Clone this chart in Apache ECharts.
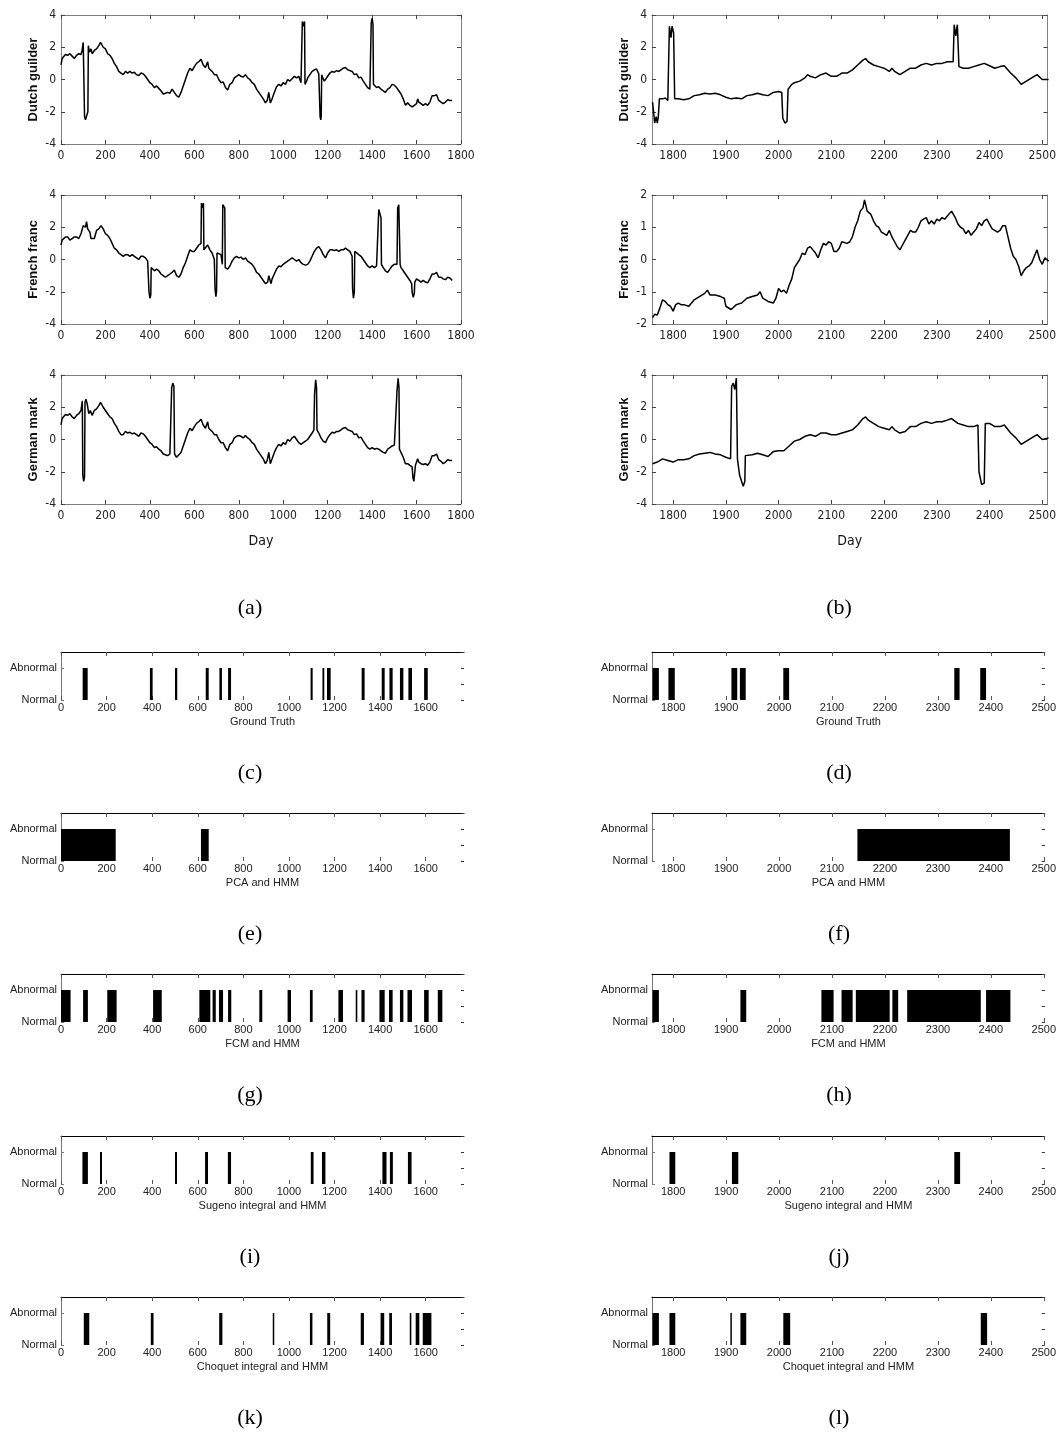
<!DOCTYPE html>
<html>
<meta charset="UTF-8">
<head>
<title>Exchange rates - anomaly detection</title>
<script src="https://cdn.jsdelivr.net/npm/echarts@6/dist/echarts.min.js"></script>
<style>html,body{margin:0;padding:0;background:#fff}</style>
</head>
<body>
<div id="main" style="width:1059px;height:1435px"></div>
<script type="text/javascript">
// tick labels
var leftDayTicks = [0, 200, 400, 600, 800, 1000, 1200, 1400, 1600, 1800];
var rightDayTicks = [1800, 1900, 2000, 2100, 2200, 2300, 2400, 2500];
var rateTicks = [-4, -2, 0, 2, 4];
var francTicks = [-2, -1, 0, 1, 2];
var stateTicks = [0, 0.5, 1, 1.5];
var stateNames = {0: 'Normal', 1: 'Abnormal'};

// exchange rate series, [day, value]
var dutchLeft = [[0,0.9],[5,1.3],[10,1.4],[20,1.55],[30,1.5],[40,1.6],[50,1.45],[60,1.3],[70,1.5],[80,1.6],[90,1.55],[95,1.8],[100,2.3],[104,2.4],[106,-2.3],[110,-2.5],[116,-2.4],[121,-2.0],[123,2.1],[128,1.7],[135,1.9],[140,1.6],[150,1.8],[160,1.9],[170,2.1],[178,2.3],[185,2.2],[190,2.0],[200,1.9],[210,1.6],[220,1.5],[230,1.3],[240,1.0],[250,0.8],[260,0.5],[270,0.4],[280,0.3],[290,0.5],[300,0.4],[310,0.5],[320,0.4],[330,0.45],[340,0.3],[350,0.25],[360,0.4],[370,0.35],[380,0.2],[390,0.0],[400,-0.2],[410,-0.3],[420,-0.5],[430,-0.4],[440,-0.55],[450,-0.7],[460,-0.9],[470,-0.85],[480,-0.8],[490,-0.85],[500,-0.6],[510,-0.8],[520,-1.0],[530,-1.1],[540,-0.8],[550,-0.4],[560,0.0],[570,0.4],[580,0.7],[590,0.55],[600,0.8],[610,1.0],[620,1.1],[630,1.25],[640,0.9],[650,0.75],[660,1.1],[665,0.7],[670,0.6],[680,0.5],[690,0.3],[700,0.3],[710,0.0],[720,-0.2],[730,-0.15],[740,-0.5],[750,-0.65],[760,-0.3],[770,-0.2],[780,0.1],[790,0.2],[800,0.3],[810,0.2],[820,0.15],[830,0.3],[840,0.1],[850,0.0],[860,-0.2],[870,-0.3],[880,-0.6],[890,-0.8],[900,-1.0],[910,-1.2],[920,-1.45],[928,-1.3],[935,-0.8],[942,-1.45],[950,-1.2],[960,-0.8],[970,-0.45],[980,-0.3],[990,-0.4],[1000,-0.2],[1010,-0.3],[1020,0.0],[1030,-0.1],[1040,0.05],[1050,0.2],[1060,0.1],[1070,0.2],[1080,-0.2],[1084,-0.3],[1086,3.6],[1092,3.3],[1096,3.6],[1098,-0.3],[1105,-0.1],[1110,0.1],[1120,0.3],[1130,0.5],[1140,0.6],[1150,0.65],[1160,0.35],[1164,0.3],[1166,-2.3],[1169,-2.5],[1171,-2.3],[1173,0.3],[1178,0.1],[1185,-0.1],[1190,-0.2],[1200,0.2],[1210,0.4],[1220,0.5],[1230,0.45],[1240,0.55],[1250,0.5],[1260,0.6],[1270,0.7],[1280,0.75],[1290,0.6],[1300,0.55],[1310,0.5],[1320,0.3],[1330,0.35],[1340,0.1],[1350,0.15],[1360,-0.1],[1370,-0.3],[1380,-0.5],[1390,-0.6],[1394,-0.5],[1396,3.5],[1400,3.8],[1404,3.4],[1406,-0.3],[1410,-0.4],[1420,-0.5],[1430,-0.45],[1440,-0.6],[1450,-0.7],[1460,-0.8],[1470,-0.6],[1480,-0.5],[1490,-0.3],[1500,-0.35],[1510,-0.5],[1520,-0.7],[1530,-0.9],[1540,-1.2],[1550,-1.6],[1560,-1.45],[1570,-1.6],[1580,-1.7],[1590,-1.6],[1600,-1.5],[1605,-1.2],[1610,-1.4],[1620,-1.5],[1630,-1.6],[1640,-1.5],[1650,-1.6],[1660,-1.4],[1670,-1.0],[1680,-1.0],[1690,-0.95],[1700,-1.3],[1710,-1.4],[1720,-1.5],[1730,-1.4],[1740,-1.25],[1750,-1.3],[1760,-1.3]];

var frenchLeft = [[0,0.9],[5,1.2],[10,1.3],[20,1.4],[30,1.4],[40,1.2],[50,1.3],[60,1.4],[70,1.4],[80,1.3],[90,1.6],[100,2.1],[105,2.2],[110,2.0],[115,2.35],[120,1.9],[130,1.7],[135,1.3],[140,1.4],[150,1.3],[160,1.8],[170,1.9],[180,2.1],[190,1.9],[200,1.6],[210,1.5],[220,1.3],[230,1.0],[240,0.7],[250,0.6],[260,0.4],[270,0.3],[280,0.2],[290,0.3],[300,0.3],[310,0.2],[320,0.3],[330,0.2],[340,0.1],[350,0.0],[360,0.2],[370,0.2],[380,0.1],[390,-0.1],[394,-0.2],[396,-2.0],[400,-2.4],[404,-2.2],[406,-0.5],[410,-0.5],[420,-0.7],[430,-0.6],[440,-0.7],[450,-0.9],[460,-1.0],[470,-1.1],[480,-1.0],[490,-0.9],[500,-0.8],[510,-0.65],[520,-1.0],[530,-1.1],[540,-0.9],[550,-0.5],[560,-0.2],[570,0.2],[580,0.6],[590,0.5],[600,0.5],[610,0.7],[620,0.9],[630,1.0],[632,3.5],[637,3.2],[641,3.5],[643,0.6],[650,0.6],[660,0.9],[670,0.6],[680,0.4],[690,0.0],[693,-1.8],[697,-2.3],[700,-2.0],[702,0.4],[710,0.5],[720,0.3],[726,-0.3],[728,3.4],[733,3.5],[737,3.2],[739,-0.5],[750,-0.6],[760,-0.4],[770,-0.1],[780,0.1],[790,0.2],[800,0.1],[810,0.15],[820,0.0],[830,0.1],[840,-0.1],[850,-0.2],[860,-0.3],[870,-0.5],[880,-0.8],[890,-0.9],[900,-1.1],[910,-1.3],[920,-1.5],[930,-1.4],[935,-1.0],[945,-1.5],[950,-1.2],[960,-0.9],[970,-0.6],[980,-0.4],[990,-0.45],[1000,-0.3],[1010,-0.2],[1020,-0.1],[1030,0.0],[1040,0.1],[1050,0.0],[1060,-0.1],[1070,0.0],[1080,-0.2],[1090,-0.3],[1100,-0.35],[1110,-0.3],[1120,-0.1],[1130,0.2],[1140,0.5],[1150,0.7],[1160,0.8],[1170,0.6],[1180,0.3],[1190,0.1],[1200,0.4],[1210,0.6],[1220,0.6],[1230,0.55],[1240,0.6],[1250,0.5],[1260,0.6],[1270,0.6],[1280,0.7],[1290,0.6],[1300,0.5],[1310,0.2],[1312,-1.8],[1316,-2.4],[1320,-2.0],[1322,0.5],[1330,0.5],[1340,0.3],[1350,0.2],[1360,0.0],[1370,-0.2],[1380,-0.4],[1390,-0.5],[1400,-0.4],[1410,-0.5],[1420,-0.4],[1428,-0.5],[1430,3.1],[1436,2.8],[1440,2.6],[1442,-0.3],[1450,-0.5],[1460,-0.7],[1470,-0.8],[1480,-0.6],[1490,-0.4],[1500,-0.3],[1512,-0.3],[1515,3.2],[1520,3.4],[1524,3.3],[1526,-0.3],[1530,-0.5],[1540,-0.7],[1550,-0.9],[1560,-1.1],[1570,-1.3],[1578,-1.5],[1580,-2.0],[1585,-2.35],[1590,-2.1],[1592,-1.4],[1600,-1.2],[1610,-1.3],[1620,-1.4],[1630,-1.3],[1640,-1.4],[1650,-1.45],[1660,-1.2],[1670,-0.9],[1680,-0.9],[1690,-0.8],[1700,-1.1],[1710,-1.1],[1720,-1.2],[1730,-1.25],[1740,-1.1],[1750,-1.15],[1760,-1.3]];

var germanLeft = [[0,0.9],[5,1.3],[10,1.4],[20,1.55],[30,1.5],[40,1.6],[50,1.4],[60,1.3],[70,1.5],[80,1.6],[90,1.8],[96,2.4],[98,-2.2],[102,-2.6],[106,-2.3],[108,2.3],[112,2.5],[118,2.2],[125,1.6],[132,1.8],[140,1.5],[150,1.8],[160,1.9],[170,2.1],[178,2.3],[185,2.2],[190,2.0],[200,1.8],[210,1.6],[220,1.4],[230,1.3],[240,1.0],[250,0.8],[260,0.5],[270,0.3],[280,0.3],[290,0.5],[300,0.4],[310,0.45],[320,0.35],[330,0.4],[340,0.3],[350,0.2],[360,0.4],[370,0.35],[380,0.2],[390,0.0],[400,-0.2],[410,-0.3],[420,-0.5],[430,-0.45],[440,-0.6],[450,-0.7],[460,-0.9],[470,-0.95],[480,-1.0],[490,-0.9],[496,-1.0],[498,3.2],[503,3.5],[508,3.3],[511,-0.9],[515,-0.9],[520,-1.1],[528,-1.2],[540,-0.8],[550,-0.4],[560,0.0],[570,0.4],[580,0.7],[590,0.55],[600,0.8],[610,1.0],[620,1.1],[630,1.25],[640,0.9],[650,0.7],[660,1.1],[665,0.7],[670,0.6],[680,0.5],[690,0.3],[700,0.3],[710,0.0],[720,-0.2],[730,-0.2],[740,-0.5],[750,-0.7],[760,-0.3],[770,-0.2],[780,0.1],[790,0.2],[800,0.25],[810,0.2],[820,0.1],[830,0.25],[840,0.1],[850,0.0],[860,-0.2],[870,-0.3],[880,-0.6],[890,-0.8],[900,-1.0],[910,-1.2],[920,-1.5],[928,-1.3],[935,-0.8],[942,-1.5],[950,-1.2],[960,-0.8],[970,-0.5],[980,-0.3],[990,-0.4],[1000,-0.2],[1010,-0.3],[1020,0.0],[1030,-0.1],[1040,0.1],[1050,0.2],[1060,0.0],[1070,-0.2],[1080,-0.3],[1090,-0.2],[1100,-0.1],[1110,0.0],[1120,0.2],[1130,0.4],[1138,0.6],[1141,2.8],[1146,3.7],[1150,3.2],[1152,0.6],[1160,0.4],[1170,0.1],[1180,-0.1],[1190,-0.2],[1200,0.1],[1210,0.3],[1220,0.45],[1230,0.4],[1240,0.5],[1250,0.5],[1260,0.6],[1270,0.7],[1280,0.75],[1290,0.6],[1300,0.55],[1310,0.5],[1320,0.3],[1330,0.35],[1340,0.1],[1350,0.15],[1360,-0.1],[1370,-0.3],[1380,-0.5],[1390,-0.6],[1400,-0.5],[1410,-0.6],[1420,-0.55],[1430,-0.6],[1440,-0.7],[1450,-0.8],[1460,-0.85],[1470,-0.6],[1480,-0.5],[1490,-0.4],[1500,-0.35],[1508,-0.4],[1512,3.0],[1517,3.8],[1521,3.2],[1523,-0.6],[1530,-0.8],[1540,-1.1],[1550,-1.5],[1560,-1.5],[1570,-1.6],[1580,-1.7],[1584,-2.4],[1588,-2.6],[1593,-2.5],[1595,-1.6],[1600,-1.4],[1605,-1.2],[1610,-1.4],[1620,-1.5],[1630,-1.55],[1640,-1.5],[1650,-1.6],[1660,-1.4],[1670,-1.0],[1680,-1.0],[1690,-0.9],[1700,-1.25],[1710,-1.35],[1720,-1.5],[1730,-1.4],[1740,-1.25],[1750,-1.3],[1760,-1.3]];

var dutchRight = [[1761,-1.4],[1763,-2.0],[1765,-2.7],[1768,-2.3],[1770,-2.7],[1772,-2.3],[1774,-1.2],[1780,-1.2],[1785,-1.15],[1790,-1.3],[1792,-1.3],[1793,3.3],[1796,2.6],[1798,3.3],[1801,2.9],[1803,-1.2],[1810,-1.2],[1820,-1.25],[1830,-1.2],[1840,-1.0],[1850,-0.95],[1860,-0.85],[1870,-0.9],[1880,-0.85],[1890,-0.95],[1900,-1.1],[1910,-1.2],[1920,-1.15],[1930,-1.2],[1940,-1.0],[1950,-0.95],[1960,-0.85],[1970,-0.95],[1980,-1.0],[1990,-0.8],[2000,-0.75],[2006,-0.8],[2008,-2.4],[2012,-2.7],[2016,-2.6],[2018,-0.6],[2025,-0.3],[2030,-0.2],[2040,-0.1],[2050,0.1],[2055,0.3],[2060,0.2],[2070,0.1],[2080,0.3],[2090,0.4],[2100,0.2],[2110,0.2],[2120,0.4],[2130,0.4],[2140,0.6],[2150,0.9],[2160,1.2],[2165,1.3],[2170,1.1],[2180,0.9],[2190,0.8],[2200,0.7],[2210,0.5],[2215,0.7],[2220,0.5],[2230,0.3],[2240,0.5],[2250,0.7],[2260,0.7],[2270,0.9],[2280,1.0],[2290,0.9],[2300,1.0],[2310,1.0],[2320,1.1],[2331,1.1],[2333,3.4],[2336,2.7],[2339,3.4],[2342,0.8],[2350,0.7],[2360,0.7],[2370,0.8],[2380,0.9],[2390,1.0],[2400,0.85],[2410,0.7],[2420,0.8],[2428,0.85],[2440,0.4],[2450,0.1],[2460,-0.3],[2470,-0.1],[2480,0.1],[2490,0.3],[2500,0.0],[2512,0.0]];

var frenchRight = [[1761,-1.8],[1765,-1.7],[1770,-1.72],[1775,-1.5],[1780,-1.25],[1785,-1.3],[1790,-1.4],[1795,-1.45],[1800,-1.6],[1805,-1.4],[1810,-1.35],[1815,-1.4],[1820,-1.4],[1830,-1.45],[1840,-1.25],[1850,-1.15],[1860,-1.05],[1865,-0.95],[1870,-1.1],[1880,-1.1],[1890,-1.15],[1897,-1.2],[1900,-1.45],[1910,-1.55],[1920,-1.4],[1930,-1.35],[1940,-1.2],[1950,-1.15],[1960,-1.1],[1965,-1.0],[1970,-1.2],[1980,-1.3],[1990,-1.35],[1995,-1.2],[2000,-0.9],[2005,-1.0],[2010,-0.95],[2015,-1.05],[2020,-0.8],[2025,-0.6],[2030,-0.25],[2040,0.0],[2045,0.2],[2050,0.15],[2055,0.35],[2060,0.4],[2070,0.2],[2075,0.05],[2080,0.3],[2085,0.5],[2090,0.45],[2095,0.55],[2100,0.5],[2105,0.25],[2110,0.25],[2115,0.35],[2120,0.55],[2130,0.5],[2135,0.55],[2140,0.7],[2145,1.0],[2150,1.2],[2155,1.5],[2160,1.6],[2163,1.85],[2168,1.5],[2175,1.4],[2180,1.2],[2185,1.05],[2190,1.0],[2195,0.85],[2200,0.8],[2205,0.75],[2210,0.9],[2215,0.7],[2220,0.55],[2225,0.4],[2230,0.3],[2235,0.45],[2240,0.6],[2245,0.75],[2250,0.9],[2255,0.85],[2260,0.85],[2265,1.0],[2270,1.2],[2275,1.25],[2280,1.3],[2285,1.1],[2290,1.2],[2295,1.1],[2300,1.25],[2305,1.2],[2310,1.3],[2315,1.25],[2320,1.35],[2328,1.5],[2335,1.3],[2340,1.1],[2345,1.0],[2350,0.95],[2355,0.8],[2360,0.9],[2365,0.75],[2370,0.85],[2375,0.95],[2380,1.15],[2385,1.05],[2390,1.2],[2395,1.25],[2400,1.1],[2405,0.95],[2410,0.9],[2415,0.85],[2420,0.9],[2425,1.05],[2430,1.05],[2435,0.7],[2440,0.35],[2445,0.1],[2450,0.0],[2455,-0.2],[2460,-0.5],[2465,-0.35],[2470,-0.25],[2475,-0.2],[2480,-0.1],[2485,0.1],[2490,0.3],[2495,0.0],[2500,-0.15],[2505,0.05],[2512,-0.05]];

var germanRight = [[1761,-1.5],[1770,-1.4],[1780,-1.2],[1790,-1.3],[1800,-1.4],[1810,-1.25],[1820,-1.25],[1830,-1.2],[1840,-1.0],[1850,-0.9],[1860,-0.85],[1870,-0.8],[1880,-0.9],[1890,-0.95],[1900,-1.1],[1909,-1.2],[1911,3.3],[1914,3.5],[1917,3.1],[1920,3.8],[1922,-1.2],[1926,-2.2],[1930,-2.6],[1933,-2.9],[1936,-2.6],[1937,-1.0],[1940,-1.0],[1950,-0.95],[1960,-0.85],[1970,-0.95],[1980,-1.05],[1990,-0.75],[2000,-0.7],[2010,-0.7],[2020,-0.4],[2030,-0.1],[2040,0.0],[2050,0.2],[2060,0.3],[2070,0.2],[2080,0.4],[2090,0.4],[2100,0.3],[2110,0.3],[2120,0.4],[2130,0.5],[2140,0.6],[2150,0.9],[2160,1.3],[2165,1.4],[2170,1.2],[2180,1.0],[2190,0.8],[2200,0.7],[2210,0.6],[2215,0.8],[2220,0.6],[2230,0.4],[2240,0.5],[2250,0.8],[2260,0.8],[2270,1.0],[2280,1.1],[2290,1.0],[2300,1.1],[2310,1.1],[2320,1.2],[2328,1.3],[2340,1.0],[2350,0.9],[2360,0.8],[2370,0.8],[2378,0.9],[2380,-2.0],[2385,-2.8],[2390,-2.7],[2392,1.0],[2400,1.0],[2410,0.8],[2420,0.8],[2428,0.9],[2440,0.4],[2450,0.1],[2460,-0.3],[2470,-0.1],[2480,0.1],[2490,0.3],[2500,0.0],[2512,0.1]];

// abnormal spans, [startDay, endDay]
var truthLeft = [[95,117],[390,402],[500,510],[635,648],[695,706],[733,746],[1095,1104],[1147,1155],[1167,1183],[1319,1332],[1407,1420],[1441,1455],[1487,1502],[1524,1540],[1593,1609]];
var truthRight = [[1761,1773],[1791,1803],[1910,1921],[1926,1937],[2008,2019],[2331,2341],[2380,2391]];
var pcaLeft = [[0,240],[614,648]];
var pcaRight = [[2148,2436]];
var fcmLeft = [[0,42],[97,118],[203,244],[404,442],[607,655],[665,679],[693,711],[733,747],[870,883],[994,1009],[1092,1104],[1217,1237],[1293,1300],[1318,1332],[1397,1420],[1439,1455],[1487,1502],[1520,1540],[1593,1613],[1653,1673]];
var fcmRight = [[1761,1773],[1927,1938],[2080,2103],[2118,2139],[2145,2209],[2214,2225],[2242,2381],[2391,2437]];
var sugenoLeft = [[94,118],[171,180],[500,509],[632,645],[732,746],[1096,1108],[1145,1160],[1410,1428],[1443,1456],[1522,1538]];
var sugenoRight = [[1793,1804],[1911,1923],[2331,2342]];
var choquetLeft = [[100,124],[394,406],[694,708],[929,935],[1092,1103],[1168,1181],[1315,1329],[1402,1418],[1440,1452],[1530,1537],[1556,1572],[1587,1625]];
var choquetRight = [[1761,1773],[1793,1804],[1908,1910],[1927,1938],[2008,2021],[2381,2393]];

var narrowFont = "'Liberation Sans Narrow','DejaVu Sans Condensed',sans-serif";
var sansFont = "'Liberation Sans',Arial,sans-serif";
var boxColor = '#808080';

var grids = [], xAxes = [], yAxes = [], series = [], texts = [];

function plain(v) { return String(v); }

function linePanel(left, top, width, xmin, xmax, xticks, yticks, yName, data, xName) {
    var g = grids.length;
    grids.push({left: left, top: top, width: width, height: 129});
    var tickX = {show: true, inside: true, length: 4, lineStyle: {color: '#444'}, customValues: xticks};
    var tickY = {show: true, inside: true, length: 4, lineStyle: {color: '#444'}, customValues: yticks};
    var xi = xAxes.length, yi = yAxes.length;
    xAxes.push({
        gridIndex: g, type: 'value', min: xmin, max: xmax, position: 'bottom',
        axisLine: {onZero: false, lineStyle: {color: boxColor}},
        axisTick: tickX,
        axisLabel: {customValues: xticks, formatter: plain, color: '#222', fontFamily: narrowFont, fontSize: 12, margin: 6},
        splitLine: {show: false},
        name: xName || '', nameLocation: 'middle', nameGap: 30,
        nameTextStyle: {color: '#111', fontFamily: narrowFont, fontSize: 14}
    });
    xAxes.push({
        gridIndex: g, type: 'value', min: xmin, max: xmax, position: 'top',
        axisLine: {onZero: false, lineStyle: {color: boxColor}},
        axisTick: tickX, axisLabel: {show: false}, splitLine: {show: false}
    });
    yAxes.push({
        gridIndex: g, type: 'value', min: yticks[0], max: yticks[yticks.length - 1], position: 'left',
        axisLine: {onZero: false, lineStyle: {color: boxColor}},
        axisTick: tickY,
        axisLabel: {customValues: yticks, formatter: plain, color: '#222', fontFamily: narrowFont, fontSize: 12, margin: 5},
        splitLine: {show: false},
        name: yName, nameLocation: 'middle', nameGap: 21,
        nameTextStyle: {color: '#111', fontFamily: sansFont, fontSize: 13, fontWeight: 'bold'}
    });
    yAxes.push({
        gridIndex: g, type: 'value', min: yticks[0], max: yticks[yticks.length - 1], position: 'right',
        axisLine: {onZero: false, lineStyle: {color: boxColor}},
        axisTick: tickY, axisLabel: {show: false}, splitLine: {show: false}
    });
    series.push({
        type: 'line', xAxisIndex: xi, yAxisIndex: yi, data: data,
        symbol: 'none', lineStyle: {color: '#000', width: 1.5}, silent: true
    });
}

function renderSpan(params, api) {
    var a = api.coord([api.value(0), 1]);
    var b = api.coord([api.value(1), 0]);
    return {
        type: 'rect',
        shape: {x: a[0], y: a[1], width: Math.max(b[0] - a[0], 1.5), height: b[1] - a[1]},
        style: {fill: '#000'}
    };
}

function barPanel(left, top, width, xmin, xmax, xticks, name, spans) {
    var g = grids.length;
    grids.push({left: left, top: top, width: width, height: 48});
    var tickX = {show: true, inside: true, length: 4, lineStyle: {color: '#555'}, customValues: xticks};
    var tickY = {show: true, inside: true, length: 3, lineStyle: {color: '#333'}, customValues: stateTicks};
    var xi = xAxes.length, yi = yAxes.length;
    xAxes.push({
        gridIndex: g, type: 'value', min: xmin, max: xmax, position: 'bottom',
        axisLine: {show: false, onZero: false},
        axisTick: tickX,
        axisLabel: {customValues: xticks, formatter: plain, color: '#222', fontFamily: sansFont, fontSize: 11, margin: 2},
        splitLine: {show: false},
        name: name, nameLocation: 'middle', nameGap: 16,
        nameTextStyle: {color: '#222', fontFamily: sansFont, fontSize: 11}
    });
    xAxes.push({
        gridIndex: g, type: 'value', min: xmin, max: xmax, position: 'top',
        axisLine: {onZero: false, lineStyle: {color: '#000'}},
        axisTick: tickX, axisLabel: {show: false}, splitLine: {show: false}
    });
    yAxes.push({
        gridIndex: g, type: 'value', min: 0, max: 1.5, position: 'left',
        axisLine: {onZero: false, lineStyle: {color: '#777'}},
        axisTick: {show: true, inside: true, length: 3, lineStyle: {color: '#777'}, customValues: [0, 1]},
        axisLabel: {customValues: [0, 1], color: '#222', fontFamily: sansFont, fontSize: 11, margin: 4,
            formatter: function (v) { return stateNames[v] || ''; }},
        splitLine: {show: false}
    });
    yAxes.push({
        gridIndex: g, type: 'value', min: 0, max: 1.5, position: 'right',
        axisLine: {show: false, onZero: false},
        axisTick: tickY, axisLabel: {show: false}, splitLine: {show: false}
    });
    series.push({
        type: 'custom', xAxisIndex: xi, yAxisIndex: yi, data: spans,
        encode: {x: [0, 1]}, renderItem: renderSpan, silent: true, clip: true
    });
}

// top: exchange rates
linePanel(61, 15, 400, 0, 1800, leftDayTicks, rateTicks, 'Dutch guilder', dutchLeft);
linePanel(61, 195, 400, 0, 1800, leftDayTicks, rateTicks, 'French franc', frenchLeft);
linePanel(61, 375, 400, 0, 1800, leftDayTicks, rateTicks, 'German mark', germanLeft, 'Day');
linePanel(652, 15, 399, 1760, 2510, rightDayTicks, rateTicks, 'Dutch guilder', dutchRight);
linePanel(652, 195, 399, 1760, 2510, rightDayTicks, francTicks, 'French franc', frenchRight);
linePanel(652, 375, 399, 1760, 2510, rightDayTicks, rateTicks, 'German mark', germanRight, 'Day');

// detection results
var barNames = ['Ground Truth', 'PCA and HMM', 'FCM and HMM', 'Sugeno integral and HMM', 'Choquet integral and HMM'];
var leftSpans = [truthLeft, pcaLeft, fcmLeft, sugenoLeft, choquetLeft];
var rightSpans = [truthRight, pcaRight, fcmRight, sugenoRight, choquetRight];
var barTops = [652, 813, 974, 1136, 1297];
var leftBarTicks = leftDayTicks.slice(0, 9);
for (var i = 0; i < barNames.length; i++) {
    barPanel(61, barTops[i], 403, 0, 1768, leftBarTicks, barNames[i], leftSpans[i]);
    barPanel(652, barTops[i], 395, 1760, 2502, rightDayTicks, barNames[i], rightSpans[i]);
}

// sub-figure captions
var captions = ['(a)', '(b)', '(c)', '(d)', '(e)', '(f)', '(g)', '(h)', '(i)', '(j)', '(k)', '(l)'];
var captionRows = [608, 773, 934, 1095, 1257, 1418];
for (var c = 0; c < captions.length; c++) {
    texts.push({
        type: 'text', x: (c % 2 === 0) ? 250 : 839, y: captionRows[Math.floor(c / 2)],
        style: {text: captions[c], fill: '#000', font: "22px 'Liberation Serif','Times New Roman',serif",
            textAlign: 'center', textVerticalAlign: 'middle'}
    });
}

var myChart = echarts.init(document.getElementById('main'));
myChart.setOption({
    backgroundColor: '#fff',
    animation: false,
    grid: grids,
    xAxis: xAxes,
    yAxis: yAxes,
    series: series,
    graphic: texts
});
</script>
</body>
</html>
